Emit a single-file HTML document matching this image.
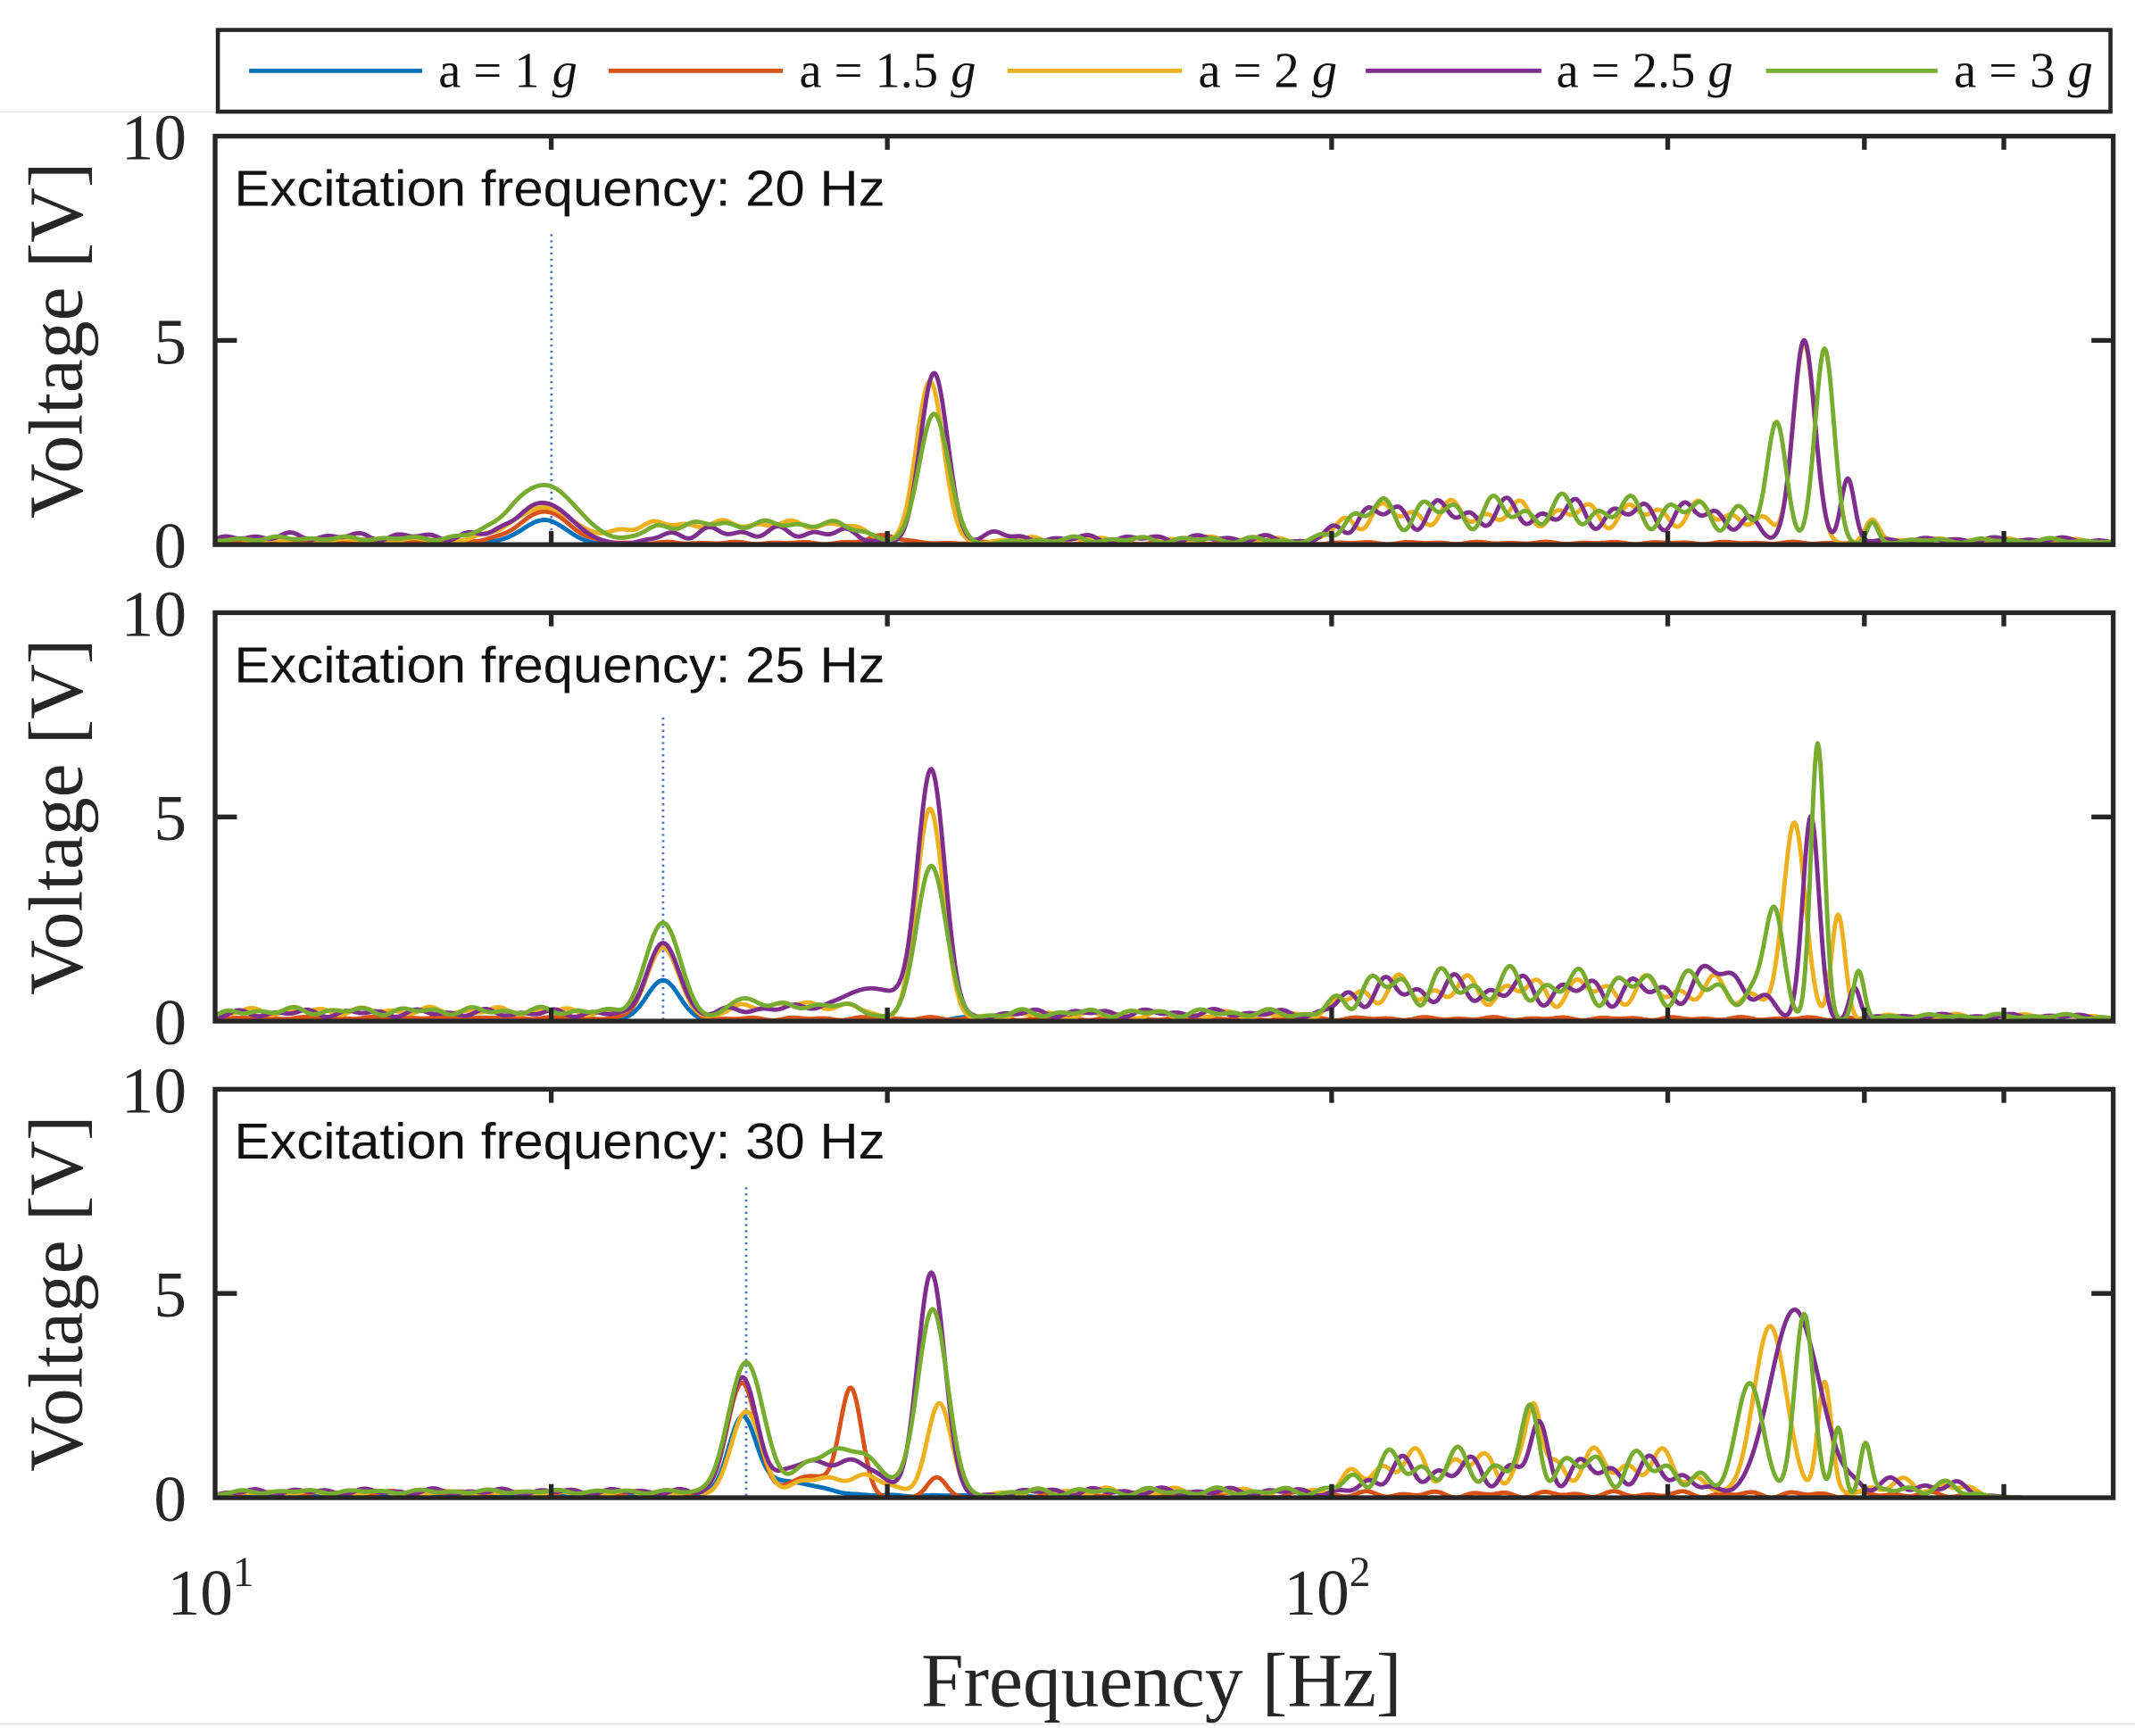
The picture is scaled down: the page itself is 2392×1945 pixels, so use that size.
<!DOCTYPE html>
<html><head><meta charset="utf-8"><style>html,body{margin:0;padding:0;background:#fff}svg{display:block}</style></head>
<body>
<svg id="s" width="2392" height="1945" viewBox="0 0 1568 1275" preserveAspectRatio="none" xmlns="http://www.w3.org/2000/svg">
<rect width="1568" height="1275" fill="#fff"/>
<line x1="0" y1="82" x2="160" y2="82" stroke="#e6e6e6" stroke-width="1"/>
<line x1="0" y1="1266" x2="1568" y2="1266" stroke="#e6e6e6" stroke-width="1"/>
<!-- legend -->
<rect x="160" y="22" width="1390" height="60" fill="#fff" stroke="#262626" stroke-width="3"/>
<g stroke-width="3.2">
<line x1="183" y1="52" x2="310" y2="52" stroke="#0072BD"/>
<line x1="447" y1="52" x2="575" y2="52" stroke="#D95319"/>
<line x1="740" y1="52" x2="868" y2="52" stroke="#EDB120"/>
<line x1="1003" y1="52" x2="1132" y2="52" stroke="#7E2F8E"/>
<line x1="1297" y1="52" x2="1423" y2="52" stroke="#77AC30"/>
</g>
<g font-family="'Liberation Serif',serif" font-size="37" fill="#111">
<text x="322" y="64">a = 1 <tspan font-style="italic">g</tspan></text>
<text x="587" y="64">a = 1.5 <tspan font-style="italic">g</tspan></text>
<text x="880" y="64">a = 2 <tspan font-style="italic">g</tspan></text>
<text x="1143" y="64">a = 2.5 <tspan font-style="italic">g</tspan></text>
<text x="1435" y="64">a = 3 <tspan font-style="italic">g</tspan></text>
</g>
<g id="panels"></g>
<g font-family="'Liberation Serif',serif" fill="#262626">
<text x="123" y="1186" font-size="48">10<tspan font-size="31" dy="-21">1</tspan></text>
<text x="943" y="1186" font-size="48">10<tspan font-size="31" dy="-21">2</tspan></text>
<text x="853" y="1253" font-size="56" text-anchor="middle">Frequency [Hz]</text>
</g>
</svg>
<script>
(function(){
var NS="http://www.w3.org/2000/svg",G=document.getElementById("panels");
function el(t,a,p){var e=document.createElementNS(NS,t);for(var k in a)e.setAttribute(k,a[k]);(p||G).appendChild(e);return e;}
var L=158,R=1552,D=820;
function fx(f){return L+Math.log10(f/10)*D;}
var cols=["#0072BD","#D95319","#EDB120","#7E2F8E","#77AC30"];
var panels=[
{top:100,label:"Excitation frequency: 20 Hz",ex:405,dt:172,
 s:[
 {p:[[400,0.6,16],[640,0.08,10]],b:[[158,380,0.05,0]]},
 {p:[[400,0.8,18],[650,0.2,10]],b:[[158,380,0.08,0.03],[420,1400,0.04,0.03]]},
 {p:[[400,0.9,22],[683,4.0,10],[1325,4.9,8],[1375,0.5,5]],b:[[158,380,0.12,0.05],[450,640,0.5,0.1],[720,950,0.12,0.08],[980,1300,0.75,0.35],[1360,1552,0.1,0.05]]},
 {p:[[400,1.0,20],[686,4.2,10],[730,0.3,8],[1325,5.0,8],[1357,1.6,5]],b:[[158,380,0.2,0.1],[480,640,0.3,0.15],[740,950,0.15,0.1],[980,1290,0.75,0.4],[1370,1552,0.12,0.06]]},
 {p:[[400,1.45,24],[686,3.2,11],[1305,2.9,7],[1340,4.8,7],[1375,0.5,4]],b:[[158,380,0.15,0.05],[470,640,0.5,0.1],[740,950,0.12,0.08],[980,1290,0.8,0.45],[1380,1552,0.1,0.06]]}
 ]},
{top:450,label:"Excitation frequency: 25 Hz",ex:487,dt:527,
 s:[
 {p:[[487,1.0,12],[710,0.1,10]],b:[[158,460,0.05,0]]},
 {p:[[487,1.8,12]],b:[[158,460,0.08,0.03],[520,1400,0.06,0.04]]},
 {p:[[487,1.8,12],[683,5.2,10],[1318,4.8,8],[1350,2.6,5]],b:[[158,460,0.25,0.1],[530,640,0.4,0.1],[720,960,0.15,0.1],[980,1300,0.75,0.4],[1370,1552,0.12,0.06]]},
 {p:[[487,1.9,12],[684,6.0,10],[640,0.8,25],[1265,0.6,10],[1330,5.0,6],[1362,0.8,4]],b:[[158,460,0.2,0.1],[520,600,0.3,0.1],[720,960,0.2,0.1],[980,1300,0.75,0.4],[1370,1552,0.12,0.06]]},
 {p:[[487,2.4,13],[545,0.5,12],[684,3.8,11],[1303,2.7,7],[1335,6.8,5],[1365,1.2,4]],b:[[158,460,0.25,0.1],[560,640,0.4,0.1],[720,960,0.2,0.1],[980,1290,0.85,0.5],[1375,1552,0.12,0.06]]}
 ]},
{top:800,label:"Excitation frequency: 30 Hz",ex:548,dt:872,
 s:[
 {p:[[545,1.8,10],[575,0.4,25]],b:[[158,520,0.08,0.02],[600,760,0.05,0.02]]},
 {p:[[545,2.8,11],[625,2.6,8],[688,0.5,7]],b:[[158,520,0.12,0.05],[580,610,0.7,0],[760,1450,0.08,0.08]]},
 {p:[[548,2.1,11],[690,2.3,9],[1127,1.4,5],[1300,4.2,12],[1340,2.8,5]],b:[[158,520,0.12,0.05],[580,660,0.5,0.1],[730,980,0.15,0.1],[990,1250,0.8,0.45],[1360,1450,0.3,0.2]]},
 {p:[[545,2.9,11],[684,5.5,10],[1130,1.0,6],[1318,4.6,18]],b:[[158,520,0.15,0.08],[570,650,0.9,0.1],[730,980,0.15,0.1],[1000,1250,0.65,0.4],[1350,1450,0.3,0.2]]},
 {p:[[548,3.3,13],[685,4.6,11],[1125,1.2,6],[1285,2.8,10],[1325,4.5,7],[1350,1.7,4],[1370,1.3,4]],b:[[158,520,0.15,0.05],[585,650,1.2,0.1],[730,980,0.15,0.1],[990,1250,0.75,0.5],[1380,1450,0.25,0.2]]}
 ]}
];
function sig(x){return 1/(1+Math.exp(-x));}
panels.forEach(function(P,pi){
 var t=P.top,b=t+300;
 el("rect",{x:L,y:t,width:R-L,height:300,fill:"#fff"});
 el("line",{x1:P.ex,y1:P.dt,x2:P.ex,y2:b,stroke:"#4472C4","stroke-width":1.8,"stroke-dasharray":"1.5 3"});
 P.s.forEach(function(S,si){
  var d="";
  for(var x=L;x<=R;x+=1){
   var v=0;
   S.p.forEach(function(q){v+=q[1]*Math.exp(-Math.pow((x-q[0])/q[2],2)/2);});
   S.b.forEach(function(q,qi){
    var w=sig((x-q[0])/8)*sig((q[1]-x)/8);
    var n=q[3]*Math.sin(x*0.19+si*1.7+qi+pi)*Math.sin(x*0.053+si*0.9+pi*2);
    v+=w*(q[2]+n);
   });
   if(v<0)v=0;
   var y=b-v*30;
   d+=(x==L?"M":"L")+x+" "+y.toFixed(1);
  }
  el("path",{d:d,fill:"none",stroke:cols[si],"stroke-width":3.2,"stroke-linejoin":"round"});
 });
 el("rect",{x:L,y:t,width:R-L,height:300,fill:"none",stroke:"#262626","stroke-width":3.5});
 [20,40,100,200,300,400].forEach(function(f){var X=fx(f);
  el("line",{x1:X,y1:b,x2:X,y2:b-10,stroke:"#262626","stroke-width":3.5});
  el("line",{x1:X,y1:t,x2:X,y2:t+10,stroke:"#262626","stroke-width":3.5});});
 el("line",{x1:L,y1:t+150,x2:L+16,y2:t+150,stroke:"#262626","stroke-width":3.5});
 el("line",{x1:R,y1:t+150,x2:R-16,y2:t+150,stroke:"#262626","stroke-width":3.5});
 var tl=[["10",t+17],["5",t+167],["0",b+17]];
 tl.forEach(function(a){var e=el("text",{x:137,y:a[1],"font-family":"'Liberation Serif',serif","font-size":48,"text-anchor":"end",fill:"#262626"});e.textContent=a[0];});
 var yl=el("text",{x:0,y:0,transform:"translate(60,"+(t+150)+") rotate(-90)","font-family":"'Liberation Serif',serif","font-size":56,"text-anchor":"middle",fill:"#262626"});yl.textContent="Voltage [V]";
 var an=el("text",{x:172,y:t+51,"font-family":"'Liberation Sans',sans-serif","font-size":37,fill:"#111",textLength:478,lengthAdjust:"spacingAndGlyphs"});an.textContent=P.label;
});
})();
</script>
</body></html>
